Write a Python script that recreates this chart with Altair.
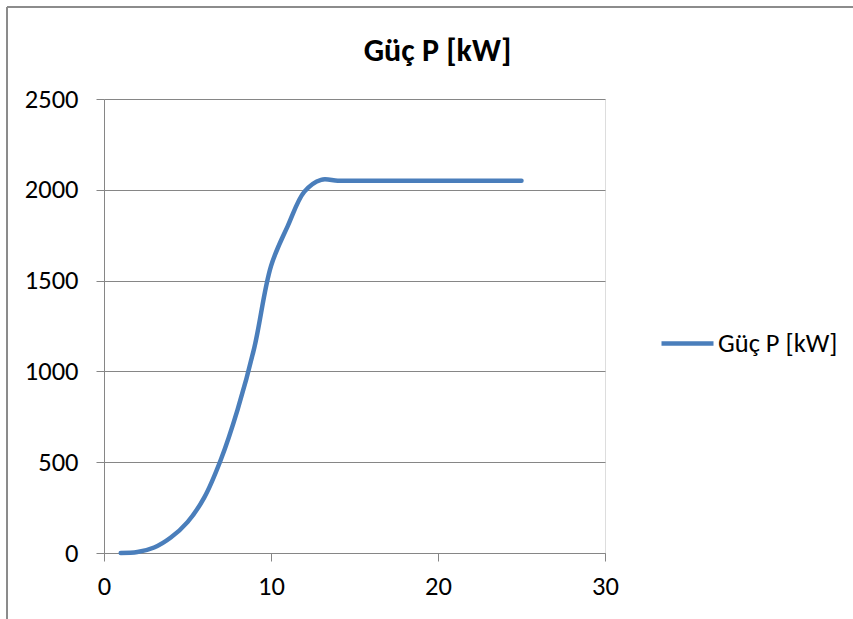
import altair as alt
import pandas as pd

speeds = [1, 2, 3, 4, 5, 6, 7, 8, 9, 10, 11, 12, 13, 14, 15, 16, 17, 18, 19, 20, 21, 22, 23, 24, 25]
power = [0, 5, 30, 85, 170, 305, 515, 790, 1130, 1580, 1800, 1990, 2055, 2050, 2050, 2050, 2050,
         2050, 2050, 2050, 2050, 2050, 2050, 2050, 2050]
series_name = "Güç P [kW]"
title_text = "Güç P [kW]"
x_ticks = [0, 10, 20, 30]
y_ticks = [0, 500, 1000, 1500, 2000, 2500]

df = pd.DataFrame({"v": speeds, "p": power, "s": [series_name] * len(speeds)})

FONT = "Carlito, Lato, sans-serif"
GRID = "#868686"
BLUE = "#4A7EBB"
FS = 26.5

line = alt.Chart(df).mark_line(
    interpolate="catmull-rom", strokeWidth=4.5, strokeCap="round"
).encode(
    x=alt.X("v:Q", scale=alt.Scale(domain=[0, 30], nice=False, zero=False),
            axis=alt.Axis(values=x_ticks, grid=False, title=None, tickSize=8,
                          labelPadding=12, labelFlush=False, format="d",
                          domainColor=GRID, tickColor=GRID,
                          labelFont=FONT, labelFontSize=FS, labelColor="#000000")),
    y=alt.Y("p:Q", scale=alt.Scale(domain=[0, 2500], nice=False),
            axis=alt.Axis(values=y_ticks, grid=True, gridColor=GRID, title=None,
                          tickSize=8, labelPadding=18, format="d",
                          domainColor=GRID, tickColor=GRID,
                          labelFont=FONT, labelFontSize=FS, labelColor="#000000")),
    color=alt.Color("s:N", scale=alt.Scale(range=[BLUE]),
                    legend=alt.Legend(title=None, orient="none", legendX=555, legendY=216,
                                      symbolType="stroke", symbolSize=2704,
                                      symbolStrokeWidth=4.5, labelFont=FONT,
                                      labelFontSize=FS, labelColor="#000000",
                                      labelOffset=2)),
)

border_left = alt.Chart(df).mark_rule(color="#8c8c8c", strokeWidth=1.2).encode(
    x=alt.value(-97), y=alt.value(-92), y2=alt.value(520)
)
border_top = alt.Chart(df).mark_rule(color="#8c8c8c", strokeWidth=1.2).encode(
    x=alt.value(-97), x2=alt.value(749), y=alt.value(-92)
)

chart = alt.layer(line, border_left, border_top).properties(
    width=501, height=454,
    autosize=alt.AutoSizeParams(type="none"),
    padding={"left": 104, "top": 99, "right": 248, "bottom": 66},
    title=alt.TitleParams(title_text, font=FONT, fontSize=32, fontWeight="bold",
                          color="#000000", anchor="middle", frame="group", dx=83,
                          offset=-62),
).configure_view(stroke=None).configure(background="white")

chart.save("out.html", embed_options={"renderer": "svg", "actions": False})
